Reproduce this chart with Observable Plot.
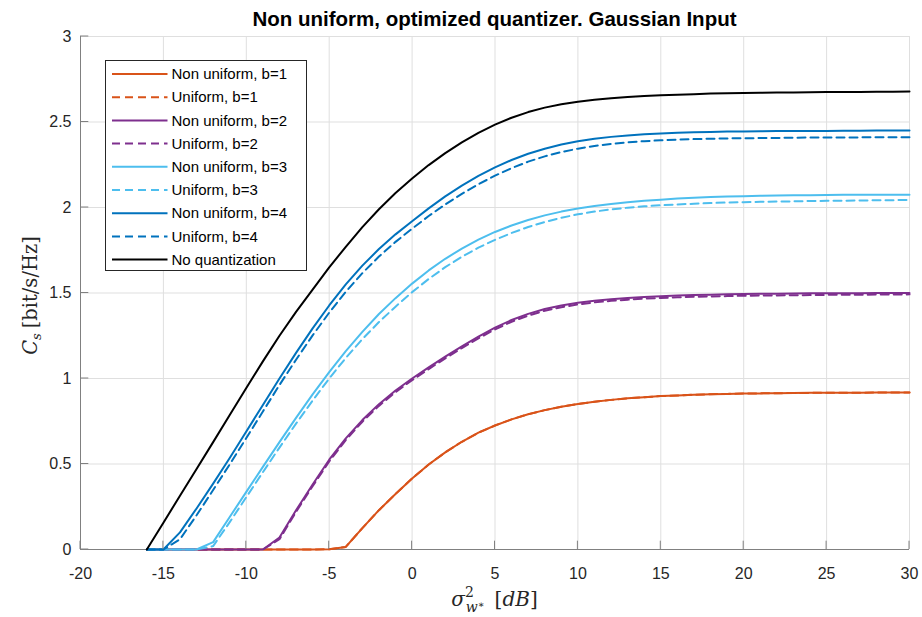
<!DOCTYPE html>
<html><head><meta charset="utf-8">
<script src="https://cdn.jsdelivr.net/npm/d3@7"></script>
<script src="https://cdn.jsdelivr.net/npm/@observablehq/plot@0.6"></script>
<style>body{margin:0;background:#fff}</style>
</head><body><div id="chart"></div>
<script>
// ---------- data ----------
const snrDb = [-16,-15,-14,-13,-12,-11,-10,-9,-8,-7,-6,-5,-4,-3,-2,-1,0,1,2,3,4,5,6,7,8,9,10,11,12,13,14,15,16,17,18,19,20,21,22,23,24,25,26,27,28,29,30];

const nonUniformB1 = [0,0,0,0,0,0,0,0,0,0,0,0.002,0.015,0.125,0.23,0.325,0.415,0.497,0.568,0.63,0.683,0.725,0.761,0.791,0.815,0.835,0.851,0.864,0.875,0.884,0.891,0.897,0.901,0.905,0.908,0.91,0.912,0.913,0.914,0.915,0.916,0.916,0.917,0.917,0.918,0.918,0.918];
const uniformB1    = [0,0,0,0,0,0,0,0,0,0,0,0.002,0.015,0.125,0.23,0.325,0.415,0.497,0.568,0.63,0.683,0.725,0.761,0.791,0.815,0.835,0.851,0.864,0.875,0.884,0.891,0.897,0.901,0.905,0.908,0.91,0.912,0.913,0.914,0.915,0.916,0.916,0.917,0.917,0.918,0.918,0.918];
const nonUniformB2 = [0,0,0,0,0,0,0,0,0.07,0.23,0.38,0.525,0.65,0.757,0.85,0.93,1.0,1.065,1.128,1.188,1.245,1.297,1.342,1.378,1.406,1.427,1.443,1.455,1.464,1.471,1.477,1.481,1.485,1.488,1.49,1.492,1.494,1.495,1.496,1.497,1.498,1.498,1.499,1.499,1.5,1.5,1.5];
const uniformB2    = [0,0,0,0,0,0,0,0,0.06,0.22,0.37,0.515,0.64,0.747,0.84,0.92,0.99,1.055,1.118,1.178,1.235,1.287,1.332,1.368,1.396,1.417,1.433,1.445,1.454,1.461,1.467,1.471,1.475,1.478,1.48,1.482,1.484,1.485,1.486,1.487,1.488,1.489,1.49,1.49,1.491,1.491,1.492];
const nonUniformB3 = [0,0,0,0,0.043,0.19,0.337,0.483,0.628,0.77,0.907,1.037,1.16,1.273,1.377,1.47,1.555,1.632,1.7,1.76,1.812,1.857,1.895,1.927,1.954,1.976,1.994,2.009,2.021,2.031,2.039,2.046,2.052,2.057,2.061,2.064,2.066,2.068,2.07,2.071,2.072,2.073,2.074,2.074,2.075,2.075,2.075];
const uniformB3    = [0,0,0,0,0.02,0.16,0.306,0.452,0.596,0.736,0.871,1.0,1.12,1.23,1.33,1.42,1.505,1.582,1.651,1.712,1.765,1.811,1.851,1.886,1.915,1.94,1.96,1.976,1.989,1.999,2.007,2.013,2.018,2.022,2.026,2.029,2.031,2.033,2.035,2.036,2.038,2.039,2.04,2.041,2.042,2.043,2.044];
const nonUniformB4 = [0,0,0.10,0.24,0.385,0.535,0.69,0.845,1.0,1.15,1.293,1.427,1.55,1.66,1.757,1.843,1.92,1.995,2.065,2.128,2.185,2.235,2.278,2.314,2.344,2.368,2.387,2.402,2.413,2.421,2.428,2.433,2.437,2.44,2.442,2.444,2.445,2.446,2.447,2.447,2.448,2.448,2.449,2.449,2.45,2.45,2.45];
const uniformB4    = [0,0,0.06,0.2,0.348,0.498,0.652,0.807,0.962,1.11,1.252,1.385,1.507,1.616,1.713,1.799,1.876,1.95,2.018,2.08,2.136,2.186,2.23,2.268,2.299,2.324,2.344,2.36,2.372,2.381,2.388,2.393,2.397,2.4,2.402,2.404,2.405,2.406,2.407,2.408,2.409,2.409,2.41,2.41,2.411,2.411,2.411];
const noQuantization = [0,0.157,0.314,0.471,0.628,0.786,0.944,1.1,1.25,1.39,1.52,1.65,1.77,1.885,1.99,2.085,2.17,2.248,2.318,2.381,2.437,2.485,2.525,2.558,2.584,2.604,2.619,2.63,2.639,2.646,2.652,2.656,2.66,2.663,2.666,2.668,2.67,2.671,2.672,2.673,2.674,2.675,2.676,2.676,2.677,2.677,2.678];

const seriesNames = ["Non uniform, b=1","Uniform, b=1","Non uniform, b=2","Uniform, b=2","Non uniform, b=3","Uniform, b=3","Non uniform, b=4","Uniform, b=4","No quantization"];
const seriesValues = [nonUniformB1, uniformB1, nonUniformB2, uniformB2, nonUniformB3, uniformB3, nonUniformB4, uniformB4, noQuantization];

const xTicks = [-20,-15,-10,-5,0,5,10,15,20,25,30];
const yTicks = [0,0.5,1,1.5,2,2.5,3];
const titleText = "Non uniform, optimized quantizer. Gaussian Input";

// ---------- styles ----------
const seriesColors = ["#D95319","#D95319","#7E2F8E","#7E2F8E","#4DBEEE","#4DBEEE","#0072BD","#0072BD","#000000"];
const seriesDashed = [false,true,false,true,false,true,false,true,false];
const DASH = "8,5";
const SANS = "'Liberation Sans', Arial, sans-serif";
const SERIF = "'DejaVu Serif', serif";

const rows = seriesNames.flatMap((name, k) => snrDb.map((x, i) => ({x, y: seriesValues[k][i], name})));

const lineMarks = seriesNames.map((name, k) =>
  Plot.line(rows.filter(r => r.name === name), {
    x: "x", y: "y", stroke: seriesColors[k], strokeWidth: 2,
    strokeDasharray: seriesDashed[k] ? DASH : null, strokeLinejoin: "round"
  })
);

const chart = Plot.plot({
  width: 922, height: 617,
  marginLeft: 80, marginRight: 13, marginTop: 36, marginBottom: 68,
  x: {domain: [-20, 30]},
  y: {domain: [0, 3]},
  style: {fontFamily: SANS, fontSize: "16px", color: "#262626", background: "#fff"},
  marks: [
    Plot.gridX(xTicks, {stroke: "#dfdfdf", strokeOpacity: 1}),
    Plot.gridY(yTicks, {stroke: "#dfdfdf", strokeOpacity: 1}),
    Plot.ruleY([0], {stroke: "#808080"}),
    Plot.ruleX([-20], {stroke: "#808080"}),
    ...lineMarks,
    Plot.axisX(xTicks, {tickSize: 0, tickPadding: 18, tickFormat: d => String(d), label: null, fill: "#262626"}),
    Plot.axisY(yTicks, {tickSize: 0, tickPadding: 9, tickFormat: d => String(d), label: null, fill: "#262626"})
  ]
});
document.getElementById("chart").appendChild(chart);

const svg = d3.select(chart);
const sx = chart.scale("x"), sy = chart.scale("y");
const x0 = sx.apply(-20), x1 = sx.apply(30), y0 = sy.apply(0), y1 = sy.apply(3);
const tickLen = 8.3;

// inward ticks
const tg = svg.append("g").attr("stroke", "#808080").attr("stroke-width", 1);
xTicks.forEach(t => tg.append("line").attr("x1", sx.apply(t)).attr("x2", sx.apply(t)).attr("y1", y0).attr("y2", y0 - tickLen));
yTicks.forEach(t => tg.append("line").attr("x1", x0).attr("x2", x0 + tickLen).attr("y1", sy.apply(t)).attr("y2", sy.apply(t)));

// title
svg.append("text").attr("x", (x0 + x1) / 2).attr("y", 26).attr("text-anchor", "middle")
  .style("font-family", SANS).style("font-weight", "bold").style("font-size", "20.5px")
  .attr("fill", "#000").text(titleText);

// y label
const yl = svg.append("text").attr("transform", `translate(37,${(y0 + y1) / 2 + 3}) rotate(-90)`).attr("text-anchor", "middle")
  .style("font-family", SERIF).style("font-size", "19.5px").attr("fill", "#262626");
yl.append("tspan").text("C").style("font-style", "italic");
yl.append("tspan").text("s").style("font-style", "italic").style("font-size", "13px").attr("dy", 4);
yl.append("tspan").text("\u2005[bit/s/Hz]").attr("dy", -4);

// x label
const xl = svg.append("text").attr("x", (x0 + x1) / 2).attr("y", 606).attr("text-anchor", "middle")
  .style("font-family", SERIF).style("font-size", "20px").attr("fill", "#262626");
xl.append("tspan").text("σ").style("font-style", "italic");
xl.append("tspan").text("2").style("font-size", "14px").attr("dy", -9);
xl.append("tspan").text("w").style("font-style", "italic").style("font-size", "14px").attr("dx", -8).attr("dy", 15);
xl.append("tspan").text("∗").style("font-size", "10px").attr("dy", -4);
xl.append("tspan").text("\u2002[").attr("dy", -2);
xl.append("tspan").text("dB").style("font-style", "italic");
xl.append("tspan").text("]");

// legend
const lg = svg.append("g");
const lx = 105.5, ly = 60.5, lw = 201, lh = 210, rowH = 23.2;
lg.append("rect").attr("x", lx).attr("y", ly).attr("width", lw).attr("height", lh)
  .attr("fill", "#fff").attr("stroke", "#262626").attr("stroke-width", 1);
seriesNames.forEach((name, k) => {
  const yy = ly + 13.5 + k * rowH;
  lg.append("line").attr("x1", lx + 6.5).attr("x2", lx + 62).attr("y1", yy).attr("y2", yy)
    .attr("stroke", seriesColors[k]).attr("stroke-width", 2)
    .attr("stroke-dasharray", seriesDashed[k] ? DASH : null);
  lg.append("text").attr("x", lx + 66).attr("y", yy).attr("dy", "0.35em").attr("text-anchor", "start")
    .style("font-family", SANS).style("font-size", "15px")
    .attr("fill", "#000").text(name);
});
</script>
</body></html>
